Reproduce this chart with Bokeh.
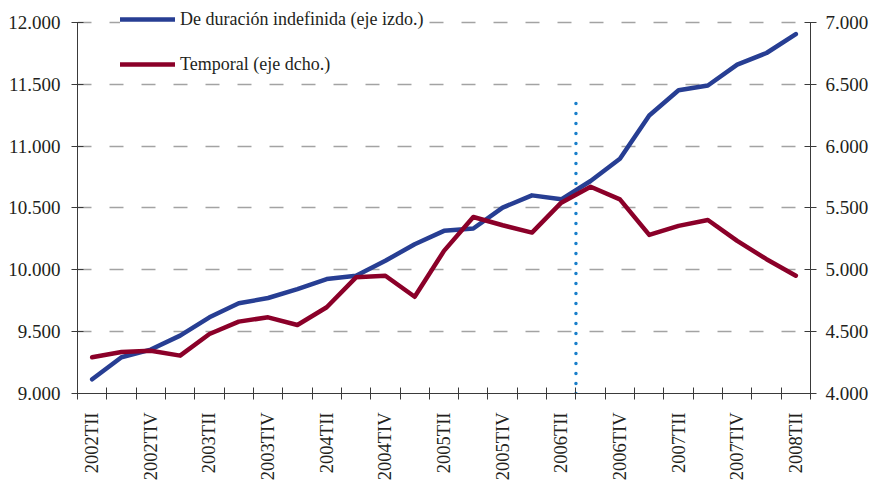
import math
from bokeh.plotting import figure
from bokeh.models import Range1d, LinearAxis, FixedTicker, Legend, LegendItem
from bokeh.embed import file_html
from bokeh.resources import INLINE

# ---- data ----
quarters = [
    "2002TII", "2002TIII", "2002TIV",
    "2003TI", "2003TII", "2003TIII", "2003TIV",
    "2004TI", "2004TII", "2004TIII", "2004TIV",
    "2005TI", "2005TII", "2005TIII", "2005TIV",
    "2006TI", "2006TII", "2006TIII", "2006TIV",
    "2007TI", "2007TII", "2007TIII", "2007TIV",
    "2008TI", "2008TII",
]
indefinida = [9115, 9293, 9355, 9468, 9616, 9729, 9772, 9844, 9925, 9952,
              10073, 10207, 10315, 10334, 10503, 10602, 10570, 10718, 10898,
              11248, 11452, 11490, 11659, 11753, 11906]
temporal = [4293, 4335, 4345, 4306, 4481, 4581, 4616, 4554, 4697, 4939,
            4952, 4782, 5153, 5427, 5360, 5301, 5543, 5672, 5570, 5282,
            5355, 5403, 5234, 5086, 4952]
left_ticks = [9000, 9500, 10000, 10500, 11000, 11500, 12000]
right_ticks = [4000, 4500, 5000, 5500, 6000, 6500, 7000]
legend_labels = ["De duración indefinida (eje izdo.)", "Temporal (eje dcho.)"]
marker_quarter = "2006TII"
marker_top = 11400

def fmt(v):
    return f"{v:,}".replace(",", ".")

FONT = "Liberation Serif"
TXT = "#231f20"
AXC = "#3a3a3a"
BLUE = "#273e93"
RED = "#8b0029"

# layout: axes area 372 px tall, 22 px of headroom above it for the legend
AXIS_PX = 372.0
HEAD_PX = 22.0

n = len(quarters)
xs = [i + 0.5 for i in range(n)]

l_lo, l_hi = left_ticks[0], left_ticks[-1]
r_lo, r_hi = right_ticks[0], right_ticks[-1]
l_top = l_hi + (l_hi - l_lo) * HEAD_PX / AXIS_PX
r_top = r_hi + (r_hi - r_lo) * HEAD_PX / AXIS_PX

p = figure(width=872, height=483, x_range=Range1d(0, n), y_range=Range1d(l_lo, l_top),
           output_backend="svg", toolbar_location=None,
           min_border_left=77, min_border_right=62, min_border_top=0, min_border_bottom=89)
p.outline_line_color = None
p.background_fill_color = "white"
p.border_fill_color = "white"

p.extra_y_ranges = {"right": Range1d(r_lo, r_top)}

# bottom axis
xa = p.xaxis[0]
label_pos = [i + 0.5 for i in range(0, n, 2)]
xa.ticker = FixedTicker(ticks=label_pos, minor_ticks=list(range(n + 1)))
xa.major_label_overrides = {i + 0.5: quarters[i] for i in range(0, n, 2)}
xa.major_label_orientation = math.pi / 2
xa.major_tick_in = 0
xa.major_tick_out = 0
xa.minor_tick_in = 6
xa.minor_tick_out = 6
xa.minor_tick_line_color = AXC
xa.axis_line_color = AXC
xa.major_label_standoff = 13
xa.major_label_text_font = FONT
xa.major_label_text_font_size = "18.5px"
xa.major_label_text_color = TXT

# left axis
ya = p.yaxis[0]
ya.ticker = FixedTicker(ticks=left_ticks, minor_ticks=[])
ya.bounds = (l_lo, l_hi)
ya.major_label_overrides = {t: fmt(t) for t in left_ticks}
ya.major_tick_in = 6
ya.major_tick_out = 6
ya.major_tick_line_color = AXC
ya.axis_line_color = AXC
ya.major_label_standoff = 11
ya.major_label_text_font = FONT
ya.major_label_text_font_size = "19px"
ya.major_label_text_color = TXT

# right axis
ra = LinearAxis(y_range_name="right")
ra.ticker = FixedTicker(ticks=right_ticks, minor_ticks=[])
ra.bounds = (r_lo, r_hi)
ra.major_label_overrides = {t: fmt(t) for t in right_ticks}
ra.major_tick_in = 6
ra.major_tick_out = 6
ra.major_tick_line_color = AXC
ra.axis_line_color = AXC
ra.major_label_standoff = 9
ra.major_label_text_font = FONT
ra.major_label_text_font_size = "19px"
ra.major_label_text_color = TXT
p.add_layout(ra, "right")

p.xgrid.visible = False
p.ygrid.grid_line_color = "#a3a3a3"
p.ygrid.grid_line_width = 1.5
p.ygrid.grid_line_dash = "14 18"

# marker line
mx = quarters.index(marker_quarter) + 1
p.line(x=[mx, mx], y=[l_lo, marker_top], line_color="#1b7fca", line_width=3.5,
       line_dash="0 10", line_cap="round")

r1 = p.line(xs, indefinida, line_color=BLUE, line_width=4.5, line_cap="round", line_join="round")
r2 = p.line(xs, temporal, line_color=RED, line_width=4.5, line_cap="round", line_join="round",
            y_range_name="right")

legend = Legend(items=[LegendItem(label=legend_labels[0], renderers=[r1]),
                       LegendItem(label=legend_labels[1], renderers=[r2])],
                location=(43, 318))
legend.background_fill_color = "white"
legend.background_fill_alpha = 1
legend.border_line_color = None
legend.padding = 4
legend.margin = 0
legend.spacing = 23
legend.glyph_width = 55
legend.glyph_height = 22
legend.label_height = 22
legend.label_standoff = 5
legend.label_text_font = FONT
legend.label_text_font_size = "18px"
legend.label_text_color = TXT
p.add_layout(legend, "center")

open("out.html", "w").write(file_html(p, INLINE))
